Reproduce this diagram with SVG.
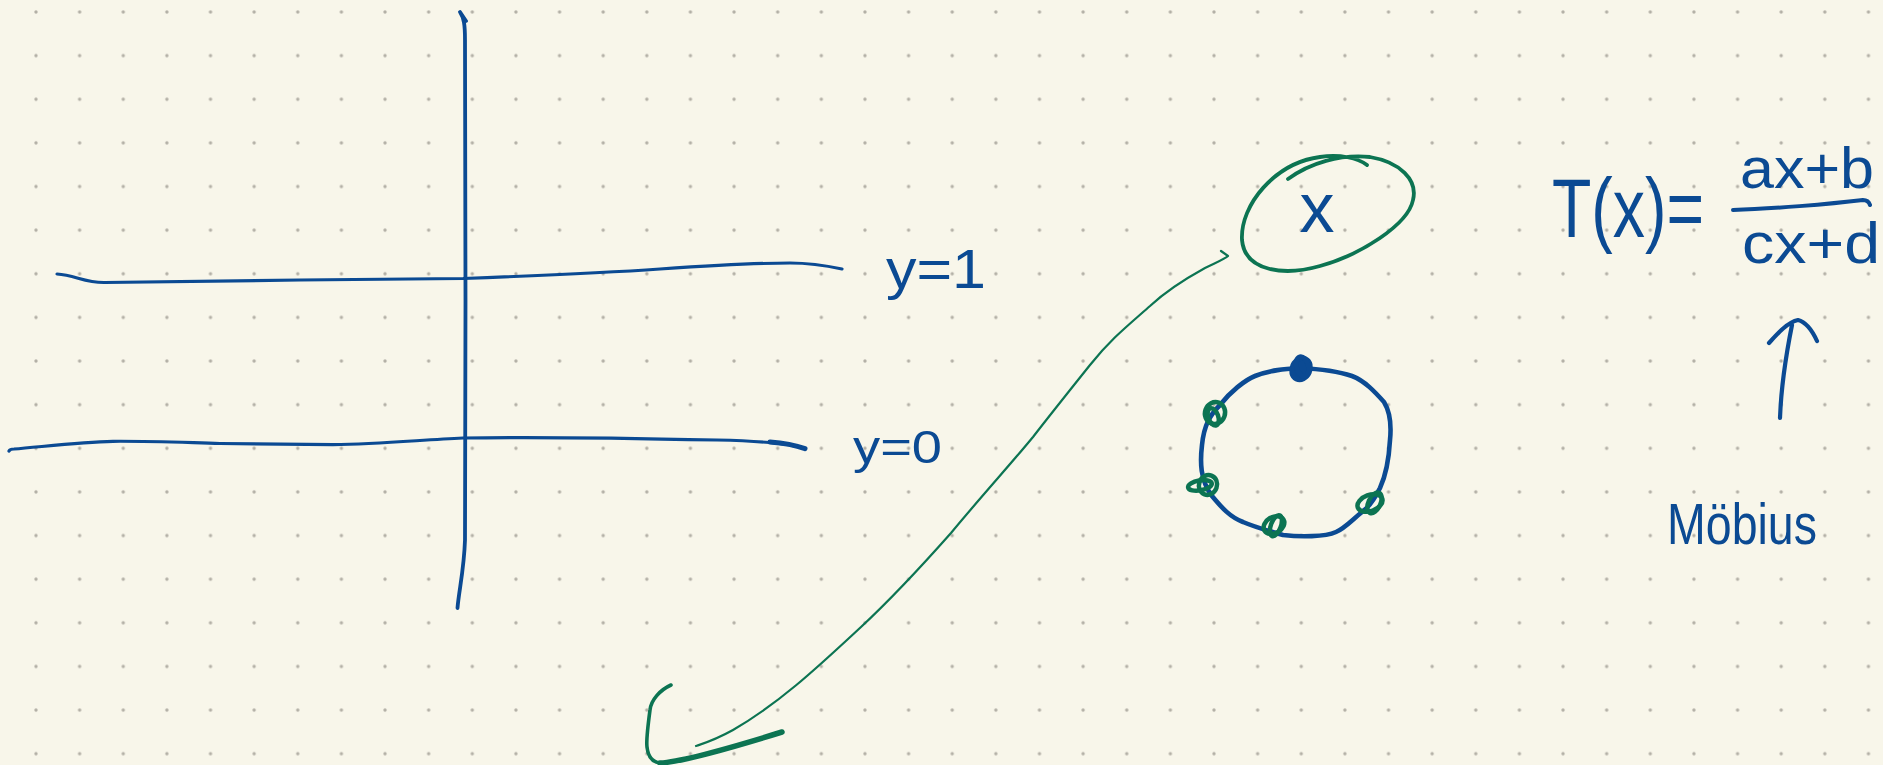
<svg xmlns="http://www.w3.org/2000/svg" width="1883" height="765" viewBox="0 0 1883 765">
  <defs>
    <pattern id="dots" patternUnits="userSpaceOnUse" x="14.185" y="-9.815" width="43.63" height="43.63">
      <circle cx="21.815" cy="21.815" r="1.7" fill="#b3b0a6"/>
    </pattern>
    <style>
      .blue{stroke:#0b4a93;fill:none;stroke-linecap:round;stroke-linejoin:round}
      .green{stroke:#0c7452;fill:none;stroke-linecap:round;stroke-linejoin:round}
      .txt{fill:#0b4a93;font-family:"Liberation Sans","DejaVu Sans",sans-serif}
    </style>
  </defs>
  <rect width="1883" height="765" fill="#f8f6ea"/>
  <rect width="1883" height="765" fill="url(#dots)"/>

  <g id="axes">
    <path class="blue" stroke-width="3.8" d="M460,12 L466,21 M460,12 C464,18 465,25 465,40 L465.5,300 L465,540 C464,570 459,590 457.5,608"/>
    <path class="blue" stroke-width="3.2" d="M57,274 C75,275 85,283 105,282.5 L300,280 C380,279 430,279 463,278.5 C530,276 603,273 660,269 C720,265 760,263 790,263 C810,263 828,266 842,269"/>
    <path class="blue" stroke-width="3.2" d="M9,451 C10,449 12,449 14,449 C40,447 80,442 113,441.3 C150,441 183,442.5 220,443.5 L333,444.7 C380,444 420,440 463,438 C520,437 600,437.5 717,440 C760,441 790,443 805,448.7"/>
    <path class="blue" stroke-width="5" d="M770,442 C785,443 795,445 805,448.7"/>
  </g>

  <g id="label-y1">
    <text class="txt" x="886" y="288" font-size="56" textLength="100" lengthAdjust="spacingAndGlyphs">y=1</text>
  </g>
  <g id="label-y0">
    <text class="txt" x="853" y="463" font-size="46" textLength="89" lengthAdjust="spacingAndGlyphs">y=0</text>
  </g>

  <g id="node-x">
    <path class="green" stroke-width="3.8" d="M1288,179 C1310,163 1340,154 1370,157 C1400,162 1418,180 1413,200 C1408,225 1360,255 1320,266 C1285,276 1245,272 1242,240 C1240,205 1275,163 1320,157 C1340,154 1358,158 1367,165"/>
    <text class="txt" x="1317" y="232" font-size="70" text-anchor="middle">x</text>
  </g>

  <g id="connectors">
    <path class="green" stroke-width="2.2" d="M1221,251 L1228,256 C1225,259 1215,263 1205,268 C1185,279 1165,292 1150,306 C1125,328 1110,340 1090,365 C1070,390 1050,415 1033,437 C1010,465 985,492 951,533 C920,568 890,600 861,627 C820,665 780,703 733,730 C715,740 705,743 696,746"/>
    <path class="green" stroke-width="3.6" d="M671,685 C660,690 651,700 650,710 C648,725 646,740 647,747 C648,757 652,762 660,763"/>
    <path class="green" stroke-width="5.5" d="M660,763 C680,762 740,745 782,732"/>
  </g>

  <g id="circle">
    <path class="blue" stroke-width="4.6" d="M1300,368 C1320,369 1340,372 1352,376 C1365,381 1375,392 1384,402 C1392,415 1391,430 1390,440 C1389,458 1386,475 1380,488 C1374,500 1368,508 1362,512 C1352,520 1345,528 1336,532 C1325,537 1300,537 1283,535 C1265,530 1250,525 1243,522 C1230,517 1222,508 1212,496 C1200,480 1200,462 1202,445 C1204,425 1210,415 1220,405 C1230,392 1245,380 1255,376 C1270,370 1285,369 1300,368 Z"/>
    <g transform="translate(1301,369)" class="blue" stroke-width="5">
      <ellipse rx="9" ry="11" transform="rotate(25)" fill="#0b4a93"/>
      <ellipse cx="2" cy="-2" rx="6" ry="10" transform="rotate(-15)"/>
    </g>
    <g transform="translate(1215,413)" class="green" stroke-width="4.5">
      <ellipse rx="10" ry="11" transform="rotate(20)"/>
      <ellipse cx="-3" cy="3" rx="5" ry="9" transform="rotate(-20)"/>
    </g>
    <g transform="translate(1208,485)" class="green" stroke-width="4.5">
      <ellipse rx="9" ry="10" transform="rotate(20)"/>
      <ellipse cx="-8" cy="-1" rx="12" ry="5" transform="rotate(-10)"/>
    </g>
    <g transform="translate(1274,525)" class="green" stroke-width="4.5">
      <ellipse rx="11" ry="8" transform="rotate(-30)"/>
      <ellipse cx="2" cy="0" rx="5" ry="11" transform="rotate(20)"/>
    </g>
    <g transform="translate(1370,503)" class="green" stroke-width="4.5">
      <ellipse rx="13" ry="8" transform="rotate(-20)"/>
      <ellipse cx="4" cy="-2" rx="6" ry="11" transform="rotate(25)"/>
    </g>
  </g>

  <g id="formula">
    <text class="txt" x="1552" y="237" font-size="84" textLength="152" lengthAdjust="spacingAndGlyphs">T(x)=</text>
    <text class="txt" x="1740" y="188" font-size="58" textLength="134" lengthAdjust="spacingAndGlyphs">ax+b</text>
    <path class="blue" stroke-width="4" d="M1733,210 C1770,209 1830,204 1863,200 C1867,200 1869,202 1870,205"/>
    <text class="txt" x="1742" y="263" font-size="58" textLength="138" lengthAdjust="spacingAndGlyphs">cx+d</text>
  </g>

  <g id="mobius">
    <path class="blue" stroke-width="4.2" d="M1780,418 C1781,390 1786,355 1792,325 M1769,343 C1778,333 1788,322 1798,320 C1806,322 1812,330 1817,341"/>
    <text class="txt" x="1667" y="544" font-size="58" textLength="150" lengthAdjust="spacingAndGlyphs">Möbius</text>
  </g>
</svg>
